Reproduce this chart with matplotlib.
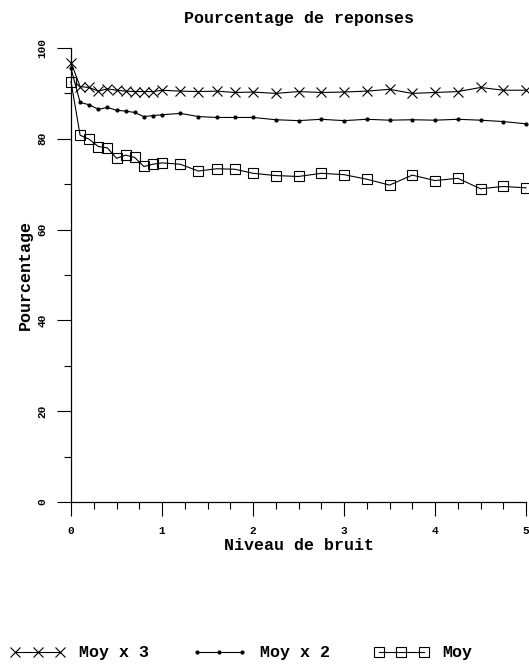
#!/usr/bin/env python3
'''
pourcentage de reponses en fonction du niveau de bruit
'''
import numpy as np
import matplotlib
matplotlib.use('Agg')
import matplotlib.pyplot as plt
from matplotlib.ticker import MultipleLocator

# niveau de bruit
bruit = [0, 0.1, 0.2, 0.3, 0.4, 0.5, 0.6, 0.7, 0.8, 0.9, 1.0,
         1.2, 1.4, 1.6, 1.8, 2.0, 2.25, 2.5, 2.75, 3.0, 3.25,
         3.5, 3.75, 4.0, 4.25, 4.5, 4.75, 5.0]

moy_x3 = [96.8, 91.5, 91.3, 90.5, 91.0, 90.7, 90.5, 90.4, 90.4, 90.4, 90.7,
          90.5, 90.4, 90.5, 90.2, 90.3, 90.0, 90.4, 90.2, 90.3, 90.5,
          90.9, 90.0, 90.2, 90.4, 91.3, 90.7, 90.7]

moy_x2 = [95.5, 88.0, 87.5, 86.5, 86.9, 86.3, 86.1, 85.8, 84.9, 85.1, 85.3,
          85.6, 84.9, 84.7, 84.7, 84.7, 84.2, 84.0, 84.3, 84.0, 84.3,
          84.1, 84.2, 84.1, 84.3, 84.1, 83.8, 83.3]

moy = [92.6, 80.8, 79.9, 78.3, 78.0, 75.7, 76.4, 75.9, 73.9, 74.4, 74.7,
       74.4, 72.9, 73.4, 73.3, 72.4, 71.9, 71.7, 72.4, 72.1, 71.1,
       69.8, 72.0, 70.8, 71.3, 69.0, 69.5, 69.2]

fnt = 'Liberation Mono'

fig = plt.figure(figsize=(5.29, 6.67), dpi=100)
ax = fig.add_axes([71/529, 165/667, 455/529, 454/667])

ax.plot(bruit, moy_x3, '-', color='black', lw=0.8, marker='x', ms=7,
        mew=0.8, label='Moy x 3', clip_on=False)
ax.plot(bruit, moy_x2, '-', color='black', lw=0.8, marker='o', ms=2,
        label='Moy x 2', clip_on=False)
ax.plot(bruit, moy, '-', color='black', lw=0.8, marker='s', ms=7.5,
        mfc='none', mew=0.8, label='Moy', clip_on=False)

ax.set_xlim(0, 5)
ax.set_ylim(0, 100)
ax.spines['top'].set_visible(False)
ax.spines['right'].set_visible(False)
ax.spines['left'].set_linewidth(0.9)
ax.spines['bottom'].set_linewidth(0.9)

ax.xaxis.set_major_locator(MultipleLocator(1))
ax.xaxis.set_minor_locator(MultipleLocator(0.25))
ax.yaxis.set_major_locator(MultipleLocator(20))
ax.yaxis.set_minor_locator(MultipleLocator(10))
ax.tick_params(which='major', direction='out', length=10, width=0.8, pad=7)
ax.tick_params(which='minor', direction='out', length=5, width=0.8)

for lab in ax.get_xticklabels():
    lab.set_fontfamily(fnt)
    lab.set_fontweight('bold')
    lab.set_fontsize(8)
for lab in ax.get_yticklabels():
    lab.set_fontfamily(fnt)
    lab.set_fontweight('bold')
    lab.set_fontsize(8)
    lab.set_rotation(90)
    lab.set_va('center')

ax.set_title('Pourcentage de reponses', family=fnt, fontsize=12,
             fontweight='bold', pad=18)
ax.set_xlabel('Niveau de bruit', family=fnt, fontsize=12,
              fontweight='bold', labelpad=2)
ax.set_ylabel('Pourcentage', family=fnt, fontsize=12,
              fontweight='bold', labelpad=3)

leg = fig.legend(loc='center left', bbox_to_anchor=(-0.009, 0.021), ncol=3,
                 numpoints=3, handlelength=3.3, columnspacing=2.6,
                 handletextpad=0.8, frameon=False,
                 prop={'family': fnt, 'weight': 'bold', 'size': 12})

fig.savefig('out.png', dpi=100)
